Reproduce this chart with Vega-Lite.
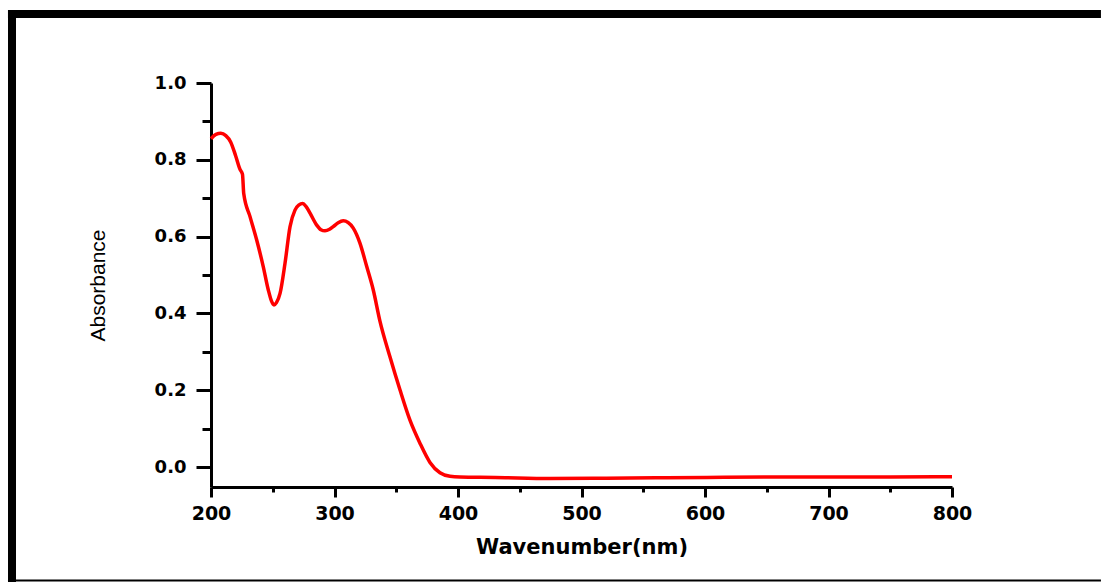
{
  "$schema": "https://vega.github.io/schema/vega-lite/v6.json",
  "width": 741,
  "height": 404,
  "autosize": {"type": "none"},
  "padding": {"left": 211, "top": 83, "right": 149, "bottom": 95},
  "background": "white",
  "config": {"view": {"stroke": null}},
  "datasets": {
    "spectrum": [
      {"nm": 200, "A": 0.855}, {"nm": 204, "A": 0.866}, {"nm": 208, "A": 0.869}, {"nm": 212, "A": 0.863},
      {"nm": 216, "A": 0.846}, {"nm": 220, "A": 0.81}, {"nm": 223.5, "A": 0.775}, {"nm": 225.5, "A": 0.762},
      {"nm": 226.5, "A": 0.712}, {"nm": 231.6, "A": 0.652}, {"nm": 237, "A": 0.591}, {"nm": 242.3, "A": 0.522},
      {"nm": 246.4, "A": 0.461}, {"nm": 249, "A": 0.432}, {"nm": 251, "A": 0.422}, {"nm": 253, "A": 0.428},
      {"nm": 255.9, "A": 0.452}, {"nm": 259.9, "A": 0.53}, {"nm": 264, "A": 0.626}, {"nm": 268, "A": 0.669},
      {"nm": 271, "A": 0.682}, {"nm": 274.3, "A": 0.686}, {"nm": 277, "A": 0.678}, {"nm": 280.2, "A": 0.661},
      {"nm": 285.6, "A": 0.63}, {"nm": 289, "A": 0.618}, {"nm": 292.3, "A": 0.615}, {"nm": 296, "A": 0.619},
      {"nm": 299, "A": 0.626}, {"nm": 303, "A": 0.636}, {"nm": 307.1, "A": 0.641}, {"nm": 311, "A": 0.637},
      {"nm": 315.2, "A": 0.622}, {"nm": 320.6, "A": 0.583}, {"nm": 326.1, "A": 0.522}, {"nm": 331.4, "A": 0.461},
      {"nm": 336.8, "A": 0.38}, {"nm": 344.9, "A": 0.287}, {"nm": 353, "A": 0.201}, {"nm": 361.1, "A": 0.122},
      {"nm": 369.2, "A": 0.062}, {"nm": 377.3, "A": 0.012}, {"nm": 385.4, "A": -0.015}, {"nm": 393.5, "A": -0.024},
      {"nm": 401.6, "A": -0.026}, {"nm": 430, "A": -0.027}, {"nm": 474.5, "A": -0.03}, {"nm": 520, "A": -0.029},
      {"nm": 560, "A": -0.028}, {"nm": 601.4, "A": -0.027}, {"nm": 650, "A": -0.026}, {"nm": 700, "A": -0.026},
      {"nm": 750, "A": -0.026}, {"nm": 800, "A": -0.025}
    ],
    "frame": [{}]
  },
  "layer": [
    {
      "data": {"name": "spectrum"},
      "mark": {"type": "line", "color": "#ff0000", "strokeWidth": 3.5, "interpolate": "monotone", "clip": false},
      "encoding": {
        "x": {
          "field": "nm", "type": "quantitative",
          "scale": {"domain": [200, 800], "nice": false, "zero": false},
          "axis": {
            "title": "Wavenumber(nm)",
            "values": [200, 250, 300, 350, 400, 450, 500, 550, 600, 650, 700, 750, 800],
            "labelExpr": "datum.value % 100 === 0 ? format(datum.value, 'd') : ''",
            "labelOverlap": false,
            "labelFlush": false,
            "grid": false,
            "domainColor": "black", "domainWidth": 3,
            "tickColor": "black", "tickWidth": 3,
            "tickSize": {"condition": {"test": "datum.value % 100 === 0", "value": 10}, "value": 5},
            "labelFont": "DejaVu Sans", "labelFontWeight": "bold", "labelFontSize": 19, "labelColor": "black",
            "labelPadding": 7,
            "titleFont": "DejaVu Sans", "titleFontWeight": "bold", "titleFontSize": 21, "titleColor": "black",
            "titlePadding": 13
          }
        },
        "y": {
          "field": "A", "type": "quantitative",
          "scale": {"domain": [-0.052, 1.0], "nice": false, "zero": false},
          "axis": {
            "title": "Absorbance",
            "values": [0, 0.1, 0.2, 0.3, 0.4, 0.5, 0.6, 0.7, 0.8, 0.9, 1.0],
            "labelExpr": "round(datum.value * 10) % 2 === 0 ? format(datum.value, '.1f') : ''",
            "labelOverlap": false,
            "labelFlush": false,
            "grid": false,
            "domainColor": "black", "domainWidth": 3,
            "tickColor": "black", "tickWidth": 3,
            "tickSize": {"condition": {"test": "round(datum.value * 10) % 2 === 0", "value": 15}, "value": 9},
            "labelFont": "DejaVu Sans", "labelFontWeight": "bold", "labelFontSize": 18, "labelColor": "black",
            "labelPadding": 10,
            "titleFont": "Liberation Sans", "titleFontWeight": "normal", "titleFontSize": 21, "titleColor": "black",
            "titlePadding": 46
          }
        }
      }
    },
    {
      "data": {"name": "frame"},
      "mark": {"type": "rule", "color": "black", "strokeWidth": 8, "strokeCap": "butt", "clip": false},
      "encoding": {
        "x": {"datum": 35.6, "type": "quantitative"},
        "x2": {"datum": 920.6},
        "y": {"datum": 1.1797, "type": "quantitative"}
      }
    },
    {
      "data": {"name": "frame"},
      "mark": {"type": "rule", "color": "black", "strokeWidth": 8, "strokeCap": "butt", "clip": false},
      "encoding": {
        "x": {"datum": 38.87, "type": "quantitative"},
        "y": {"datum": 1.19, "type": "quantitative"},
        "y2": {"datum": -0.2995}
      }
    },
    {
      "data": {"name": "frame"},
      "mark": {"type": "rule", "color": "black", "strokeWidth": 2, "strokeCap": "butt", "clip": false},
      "encoding": {
        "x": {"datum": 35.6, "type": "quantitative"},
        "x2": {"datum": 920.6},
        "y": {"datum": -0.2956, "type": "quantitative"}
      }
    }
  ]
}
